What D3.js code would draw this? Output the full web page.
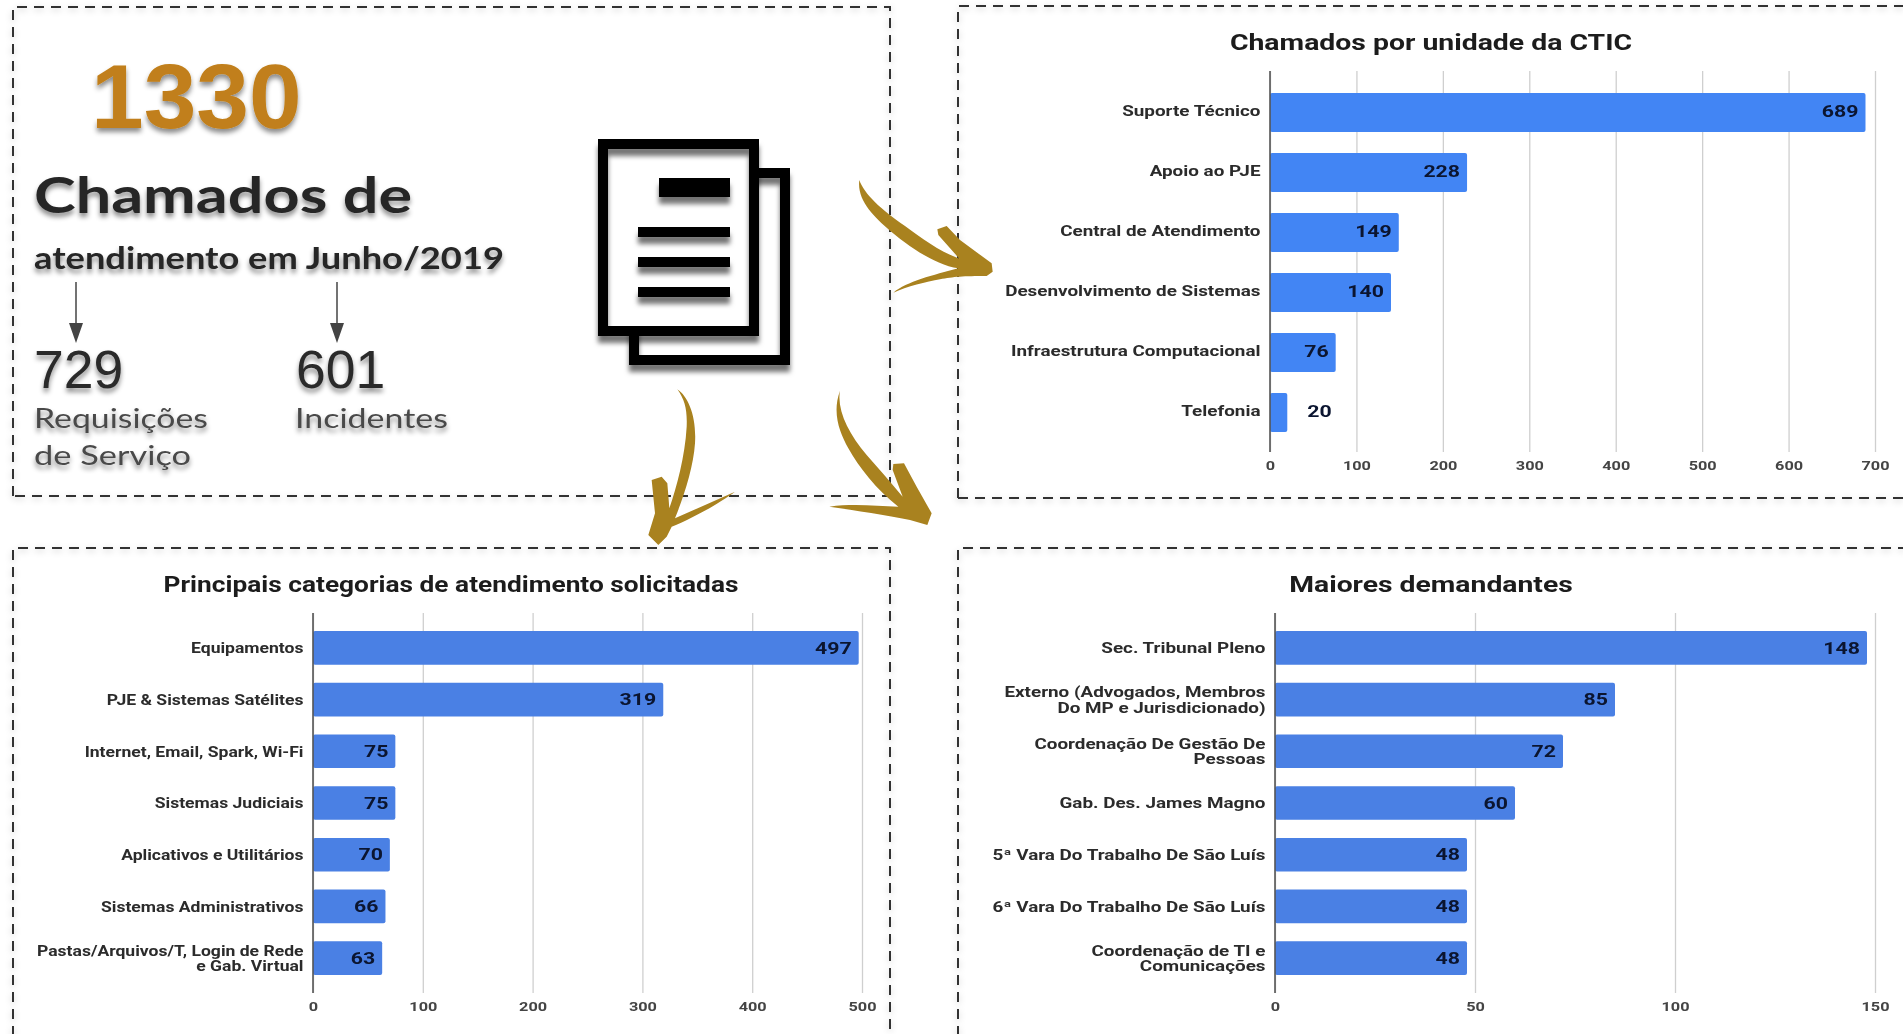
<!DOCTYPE html>
<html>
<head>
<meta charset="utf-8">
<title>Chamados de atendimento em Junho/2019</title>
<script src="https://cdn.jsdelivr.net/npm/d3@7"></script>
<style>
    html, body { margin: 0; padding: 0; background: #fff; overflow: hidden; }
    svg { display: block; filter: blur(0.4px); }
    .panel-border { fill: none; stroke: #333; stroke-width: 2; stroke-dasharray: 10 7; }
    .chart-title { font-family: Roboto, sans-serif; font-weight: 700; fill: #1c1c1c; text-anchor: middle; }
    .cat-label { font-family: Roboto, sans-serif; font-weight: 700; font-size: 14.5px; fill: #2b2b2b; text-anchor: end; }
    .tick-label { font-family: Roboto, sans-serif; font-weight: 700; font-size: 13px; fill: #444; }
    .value-label { font-family: Roboto, sans-serif; font-weight: 700; font-size: 16px; fill: #0b1530; }
    .arrow-gold { fill: #a9821f; }
    .big-total { font-family: "Liberation Sans", sans-serif; font-weight: 700; font-size: 91px; fill: #c17f1a; }
    .heading { font-family: Lato, sans-serif; font-weight: 700; fill: #262626; }
    .sub-number { font-family: "Liberation Sans", sans-serif; font-size: 53.5px; fill: #2b2b2b; }
    .sub-text { font-family: Lato, sans-serif; font-size: 27px; fill: #4a4a4a; }
</style>
</head>
<body>
<div id="page"></div>
<script>
// headline numbers
const totalCalls = "1330";
const serviceRequests = "729";
const incidents = "601";

// Chamados por unidade da CTIC
const unitNames = ["Suporte Técnico", "Apoio ao PJE", "Central de Atendimento",
    "Desenvolvimento de Sistemas", "Infraestrutura Computacional", "Telefonia"];
const unitValues = [689, 228, 149, 140, 76, 20];
const unitTicks = [0, 100, 200, 300, 400, 500, 600, 700];

// Principais categorias de atendimento solicitadas
const categoryNames = ["Equipamentos", "PJE & Sistemas Satélites", "Internet, Email, Spark, Wi-Fi",
    "Sistemas Judiciais", "Aplicativos e Utilitários", "Sistemas Administrativos",
    "Pastas/Arquivos/T, Login de Rede\ne Gab. Virtual"];
const categoryValues = [497, 319, 75, 75, 70, 66, 63];
const categoryTicks = [0, 100, 200, 300, 400, 500];

// Maiores demandantes
const requesterNames = ["Sec. Tribunal Pleno", "Externo (Advogados, Membros\nDo MP e Jurisdicionado)",
    "Coordenação De Gestão De\nPessoas", "Gab. Des. James Magno", "5ª Vara Do Trabalho De São Luís",
    "6ª Vara Do Trabalho De São Luís", "Coordenação de TI e\nComunicações"];
const requesterValues = [148, 85, 72, 60, 48, 48, 48];
const requesterTicks = [0, 50, 100, 150];

const WIDTH = 1903;
const HEIGHT = 1034;

// the reference is stretched sideways, so every text gets widened after measuring
function stretchText(selection, factor) {
    selection.each(function() {
        const len = this.getComputedTextLength();
        d3.select(this)
            .attr("textLength", len * factor)
            .attr("lengthAdjust", "spacingAndGlyphs");
    });
}

class BarPanelVis {

    constructor(svg, names, values, ticks, opts) {
        this.svg = svg;
        this.names = names;
        this.values = values;
        this.ticks = ticks;
        this.opts = opts;
        this.initVis();
    }

    initVis() {
        let vis = this;
        const o = vis.opts;

        vis.g = vis.svg.append("g").attr("class", "bar-panel");

        vis.xScale = d3.scaleLinear()
            .domain([0, vis.ticks[vis.ticks.length - 1]])
            .range([o.x0, o.x1]);

        vis.yScale = d3.scaleBand()
            .domain(vis.names)
            .range([o.bandTop, o.bandBottom])
            .paddingInner(0.35)
            .paddingOuter(0.175);

        vis.xAxis = d3.axisBottom(vis.xScale)
            .tickValues(vis.ticks)
            .tickSize(-(o.gridBottom - o.gridTop))
            .tickPadding(9);

        vis.yAxis = d3.axisLeft(vis.yScale)
            .tickSize(0)
            .tickPadding(10);

        vis.updateVis();
    }

    updateVis() {
        let vis = this;
        const o = vis.opts;

        vis.g.append("text")
            .attr("class", "chart-title")
            .attr("x", o.titleX)
            .attr("y", o.titleY)
            .style("font-size", "21.5px")
            .text(o.title)
            .call(stretchText, o.titleStretch);

        // grid lines and tick labels
        const xG = vis.g.append("g")
            .attr("transform", `translate(0, ${o.gridBottom})`)
            .call(vis.xAxis);
        xG.select(".domain").remove();
        xG.selectAll(".tick line").attr("stroke", "#cfcfcf").attr("stroke-width", 1.3);
        xG.selectAll(".tick text")
            .attr("class", "tick-label")
            .call(stretchText, 1.25);

        vis.g.selectAll(".bar")
            .data(vis.names)
            .enter()
            .append("rect")
            .attr("class", "bar")
            .attr("x", o.x0)
            .attr("y", d => vis.yScale(d))
            .attr("width", (d, i) => vis.xScale(vis.values[i]) - o.x0)
            .attr("height", vis.yScale.bandwidth())
            .attr("rx", 2)
            .attr("fill", o.barColor);

        // category labels, names with \n take two lines
        const yG = vis.g.append("g")
            .attr("transform", `translate(${o.x0}, 0)`)
            .call(vis.yAxis);
        yG.select(".domain")
            .attr("d", `M0,${o.gridTop}V${o.gridBottom}`)
            .attr("stroke", "#555")
            .attr("stroke-width", 1.6);
        yG.selectAll(".tick").each(function(d) {
            const tick = d3.select(this);
            tick.select("text").remove();
            const lines = d.split("\n");
            lines.forEach((line, i) => {
                tick.append("text")
                    .attr("class", "cat-label")
                    .attr("x", -9.5)
                    .attr("y", (i - (lines.length - 1) / 2) * 15.7 + o.textShift)
                    .attr("dy", "0.36em")
                    .text(line)
                    .call(stretchText, o.labelStretch);
            });
        });

        // value labels sit inside the bar unless it is too short
        vis.g.selectAll(".value-label")
            .data(vis.names)
            .enter()
            .append("text")
            .attr("class", "value-label")
            .attr("y", d => vis.yScale(d) + vis.yScale.bandwidth() / 2 + o.textShift)
            .attr("dy", "0.36em")
            .text((d, i) => vis.values[i])
            .call(stretchText, 1.33)
            .each(function(d, i) {
                const barEnd = vis.xScale(vis.values[i]);
                const len = +this.getAttribute("textLength");
                const inside = barEnd - o.x0 > len + 10;
                d3.select(this)
                    .attr("x", inside ? barEnd - 7 : barEnd + 20)
                    .attr("text-anchor", inside ? "end" : "start");
            });
    }
}

function drawDefs(svg) {
    const defs = svg.append("defs");

    const soft = defs.append("filter").attr("id", "text-shadow")
        .attr("x", "-10%").attr("y", "-20%").attr("width", "120%").attr("height", "150%");
    soft.append("feDropShadow").attr("dx", 0).attr("dy", 4).attr("stdDeviation", 2.5)
        .attr("flood-color", "#000").attr("flood-opacity", 0.45);

    // thin bars of the icon need a region in page units or the shadow is clipped
    const icon = defs.append("filter").attr("id", "icon-shadow")
        .attr("filterUnits", "userSpaceOnUse")
        .attr("x", 0).attr("y", 0).attr("width", WIDTH).attr("height", HEIGHT);
    icon.append("feDropShadow").attr("dx", 0).attr("dy", 7).attr("stdDeviation", 2.5)
        .attr("flood-color", "#000").attr("flood-opacity", 0.55);

    const border = defs.append("filter").attr("id", "border-shadow")
        .attr("x", "-2%").attr("y", "-2%").attr("width", "104%").attr("height", "104%");
    border.append("feDropShadow").attr("dx", 0).attr("dy", 2).attr("stdDeviation", 3)
        .attr("flood-color", "#000").attr("flood-opacity", 0.22);
}

function drawBorders(svg) {
    const borders = [
        "M13,496V7H890V496H13",
        "M958,498V6H1905M958,498H1905",
        "M13,1036V548H890V1036",
        "M958,1036V548H1905"
    ];
    svg.append("g").selectAll("path")
        .data(borders)
        .enter()
        .append("path")
        .attr("class", "panel-border")
        .attr("filter", "url(#border-shadow)")
        .attr("d", d => d);
}

function drawSummary(svg) {
    const g = svg.append("g").attr("class", "summary");
    const shadow = g.append("g").attr("filter", "url(#text-shadow)");

    shadow.append("text").attr("class", "big-total")
        .attr("x", 91).attr("y", 128)
        .text(totalCalls)
        .call(stretchText, 1.04);

    shadow.append("text").attr("class", "heading")
        .attr("x", 34).attr("y", 213)
        .style("font-size", "50px")
        .text("Chamados de")
        .attr("textLength", 378).attr("lengthAdjust", "spacingAndGlyphs");

    shadow.append("text").attr("class", "heading")
        .attr("x", 34).attr("y", 269)
        .style("font-size", "30px")
        .text("atendimento em Junho/2019")
        .attr("textLength", 470).attr("lengthAdjust", "spacingAndGlyphs");

    shadow.append("text").attr("class", "sub-number").attr("x", 34).attr("y", 388).text(serviceRequests);
    shadow.append("text").attr("class", "sub-number").attr("x", 296).attr("y", 388).text(incidents);

    shadow.append("text").attr("class", "sub-text").attr("x", 34).attr("y", 428)
        .text("Requisições").attr("textLength", 174).attr("lengthAdjust", "spacingAndGlyphs");
    shadow.append("text").attr("class", "sub-text").attr("x", 34).attr("y", 465)
        .text("de Serviço").attr("textLength", 157).attr("lengthAdjust", "spacingAndGlyphs");
    shadow.append("text").attr("class", "sub-text").attr("x", 295).attr("y", 428)
        .text("Incidentes").attr("textLength", 153).attr("lengthAdjust", "spacingAndGlyphs");

    // thin arrows from the heading to the two numbers
    [76, 337].forEach(x => {
        g.append("line")
            .attr("x1", x).attr("x2", x).attr("y1", 282).attr("y2", 326)
            .attr("stroke", "#444").attr("stroke-width", 1.5);
        g.append("path")
            .attr("d", `M${x - 7},323H${x + 7}L${x},343Z`)
            .attr("fill", "#444");
    });
}

function drawDocumentIcon(svg) {
    const g = svg.append("g").attr("class", "doc-icon");
    const sheets = [
        {x: 634, y: 173, w: 151, h: 187},
        {x: 603, y: 144, w: 151, h: 187}
    ];

    // each sheet: white paper first, then the outline so its shadow lands on the paper
    sheets.forEach(s => {
        g.append("rect").attr("x", s.x).attr("y", s.y).attr("width", s.w).attr("height", s.h)
            .attr("fill", "#fff");
        g.append("rect").attr("x", s.x).attr("y", s.y).attr("width", s.w).attr("height", s.h)
            .attr("fill", "none").attr("stroke", "#000").attr("stroke-width", 10)
            .attr("filter", "url(#icon-shadow)");
    });

    g.append("rect").attr("x", 659).attr("y", 178).attr("width", 71).attr("height", 19)
        .attr("fill", "#000").attr("filter", "url(#icon-shadow)");
    [227, 257, 287].forEach(y => {
        g.append("rect").attr("x", 638).attr("y", y).attr("width", 92).attr("height", 10)
            .attr("fill", "#000").attr("filter", "url(#icon-shadow)");
    });
}

// brush-stroke arrows, outlines traced in 3x crop coordinates
function drawGoldArrows(svg) {
    const arrows = [
        {x: 840, y: 170, d: "M58,30C72,72 125,120 195,168C245,205 300,245 358,266L295,195L292,178L320,168L360,210L455,280L458,305L440,318C370,318 340,320 300,328C260,335 200,350 160,368C200,335 280,315 355,295C290,285 220,240 150,182C100,138 50,90 58,30Z"},
        {x: 630, y: 380, d: "M142,28C175,50 200,110 195,190C190,260 165,340 135,415L315,335C275,365 190,415 125,440L110,470L85,495L55,465L75,400L65,300L95,290L112,310L118,385C140,320 165,230 170,140C172,90 165,60 142,28Z"},
        {x: 820, y: 380, d: "M60,32C50,90 85,160 140,225C175,265 215,310 248,350L218,270L220,252L252,250L290,320L335,400L322,435L270,420C200,405 110,392 28,380C100,370 170,378 235,380C170,330 115,260 85,205C60,160 35,100 60,32Z"}
    ];
    svg.append("g").selectAll("path")
        .data(arrows)
        .enter()
        .append("path")
        .attr("class", "arrow-gold")
        .attr("transform", d => `translate(${d.x},${d.y}) scale(${1 / 3})`)
        .attr("d", d => d.d);
}

const svg = d3.select("#page").append("svg")
    .attr("width", WIDTH)
    .attr("height", HEIGHT);

drawDefs(svg);
drawBorders(svg);
drawSummary(svg);
drawDocumentIcon(svg);

new BarPanelVis(svg, unitNames, unitValues, unitTicks, {
    title: "Chamados por unidade da CTIC", titleX: 1431, titleY: 50, titleStretch: 1.32,
    x0: 1270, x1: 1875, gridTop: 71, gridBottom: 452, bandTop: 82.5, bandBottom: 442.5,
    barColor: "#4285f4", labelStretch: 1.3, textShift: -1.5
});

new BarPanelVis(svg, categoryNames, categoryValues, categoryTicks, {
    title: "Principais categorias de atendimento solicitadas", titleX: 451, titleY: 592, titleStretch: 1.222,
    x0: 313, x1: 862, gridTop: 613, gridBottom: 993, bandTop: 622, bandBottom: 984,
    barColor: "#4a80e4", labelStretch: 1.21, textShift: 0
});

new BarPanelVis(svg, requesterNames, requesterValues, requesterTicks, {
    title: "Maiores demandantes", titleX: 1431, titleY: 592, titleStretch: 1.317,
    x0: 1275, x1: 1875, gridTop: 613, gridBottom: 993, bandTop: 622, bandBottom: 984,
    barColor: "#4a80e4", labelStretch: 1.3, textShift: 0
});

drawGoldArrows(svg);
</script>
</body>
</html>
